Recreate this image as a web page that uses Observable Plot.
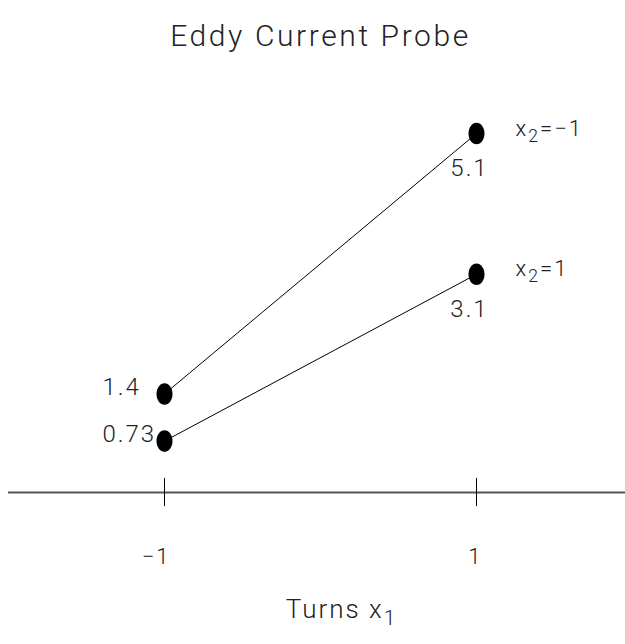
<!DOCTYPE html>
<html>
<head>
<meta charset="utf-8">
<script src="https://cdn.jsdelivr.net/npm/d3@7"></script>
<script src="https://cdn.jsdelivr.net/npm/@observablehq/plot@0.6"></script>
<style>
  html, body { margin: 0; padding: 0; background: #fff; }
  svg text { font-family: Roboto, "DejaVu Sans", sans-serif; font-weight: 300; letter-spacing: 2px; }
  svg .title text { letter-spacing: 2.6px; }
</style>
</head>
<body>
<div id="chart"></div>
<script>
// ---- data ----
const chartTitle = "Eddy Current Probe";
const xAxisLabel = "Turns x1";
const turnsLevels = [-1, 1];                 // x1
const xTickLabels = ["\u22121", "1"];
const seriesNames = ["x2=\u22121", "x2=1"];  // x2 levels
const responseX2Minus = [1.4, 5.1];
const responseX2Plus = [0.73, 3.1];
const valueLabelsX2Minus = ["1.4", "5.1"];
const valueLabelsX2Plus = ["0.73", "3.1"];

const rows = [];
[[responseX2Minus, valueLabelsX2Minus, seriesNames[0]],
 [responseX2Plus, valueLabelsX2Plus, seriesNames[1]]].forEach(([vals, labs, name]) => {
  turnsLevels.forEach((x, i) => rows.push({x1: x, y: vals[i], label: labs[i], series: name}));
});
const leftRows = rows.filter(d => d.x1 === turnsLevels[0]);
const rightRows = rows.filter(d => d.x1 === turnsLevels[1]);
const ticks = turnsLevels.map((x, i) => ({x, label: xTickLabels[i]}));

// ellipse symbol
const ellipse = {
  draw(ctx, size) {
    const rx = Math.sqrt(size / Math.PI), ry = rx * 1.35, k = 0.5523;
    ctx.moveTo(rx, 0);
    ctx.bezierCurveTo(rx, ry * k, rx * k, ry, 0, ry);
    ctx.bezierCurveTo(-rx * k, ry, -rx, ry * k, -rx, 0);
    ctx.bezierCurveTo(-rx, -ry * k, -rx * k, -ry, 0, -ry);
    ctx.bezierCurveTo(rx * k, -ry, rx, -ry * k, rx, 0);
    ctx.closePath();
  }
};

const W = 625, H = 644;
const chart = Plot.plot({
  width: W, height: H,
  margin: 0,
  x: {domain: [-2, 2], range: [8, 632], axis: null},
  y: {domain: [0, 7], range: [492, 492 - 7 * 70.4], axis: null},
  marks: [
    Plot.ruleY([0], {x1: -2, x2: 2, stroke: "#555", strokeWidth: 2}),
    Plot.ruleX(ticks, {x: "x", y1: -0.2, y2: 0.2, stroke: "#000", strokeWidth: 1}),
    Plot.text(ticks, {x: "x", y: 0, text: "label", dy: 64, dx: 6, textAnchor: "end", fontSize: 22, fill: "#222"}),
    Plot.line(rows, {x: "x1", y: "y", z: "series", stroke: "#000", strokeWidth: 1}),
    Plot.dot(rows, {x: "x1", y: "y", r: 8, symbol: ellipse, fill: "#000", stroke: "none"}),
    Plot.text(leftRows, {x: "x1", y: "y", text: "label", dx: -62, dy: -7, textAnchor: "start", fontSize: 24, fill: "#222"}),
    Plot.text(rightRows, {x: "x1", y: "y", text: "label", dx: -7, dy: 35, fontSize: 24, fill: "#222"}),
    Plot.text(rightRows, {x: "x1", y: "y", text: "series", dx: 39, dy: -5, textAnchor: "start", fontSize: 22, fill: "#222", className: "serieslab"}),
    Plot.text([chartTitle], {x: 0, frameAnchor: "top", text: d => d, dy: 24, fontSize: 30, fill: "#222", className: "title"}),
    Plot.text([xAxisLabel], {x: 0, frameAnchor: "bottom", text: d => d, dx: 21, dy: -27, fontSize: 26, fill: "#222", className: "xlabel"})
  ]
});
document.getElementById("chart").appendChild(chart);

// subscripts: turn "x2"/"x1" into x with lowered small digit
chart.querySelectorAll("text").forEach(t => {
  const s = t.textContent;
  const m = s.match(/^(.*?x)([12])(.*)$/);
  if (m && (t.closest(".serieslab") || t.closest(".xlabel"))) {
    t.textContent = "";
    const ns = "http://www.w3.org/2000/svg";
    const a = document.createElementNS(ns, "tspan"); a.textContent = m[1];
    const b = document.createElementNS(ns, "tspan"); b.textContent = m[2];
    b.setAttribute("dy", "0.35em"); b.setAttribute("font-size", "0.8em");
    const c = document.createElementNS(ns, "tspan"); c.textContent = m[3];
    c.setAttribute("dy", "-0.28em");
    t.append(a, b, c);
  }
});
</script>
</body>
</html>
